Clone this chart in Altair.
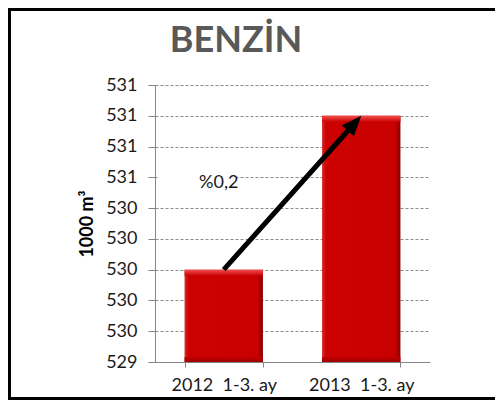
import math
import altair as alt
import pandas as pd

# ---- data ----
categories = ["2012\u00a0 1-3. ay", "2013\u00a0 1-3. ay"]
values = [530.0, 531.0]
tick_values = [529.4, 529.6, 529.8, 530.0, 530.2, 530.4, 530.6, 530.8, 531.0, 531.2]
title_text = ["BENZİN"]
y_title = "1000 m³"
change_label = ["%0,2"]
change_label_y = [530.56]
label_box_y = [530.47]
label_box_y2 = [530.66]

W, H = 275, 277
FONT = "Lato"

df = pd.DataFrame({"period": categories, "value": values, "base": [tick_values[0]] * len(values)})
arrow_df = pd.DataFrame({"x0": [categories[0]], "y0": [values[0]],
                         "x1": [categories[1]], "y1": [values[1]]})
label_df = pd.DataFrame({"period": [categories[0]], "y": change_label_y,
                         "by": label_box_y, "by2": label_box_y2, "t": change_label})
title_df = pd.DataFrame({"t": title_text})

xscale = alt.Scale(domain=categories, paddingInner=0.43, paddingOuter=0.215)
yscale = alt.Scale(domain=[tick_values[0], tick_values[-1]], zero=False, nice=False)

x_axis = alt.Axis(title=None, labelAngle=0, labelFont=FONT, labelFontSize=18,
                  labelColor="#1a1a1a", labelPadding=9, tickSize=5,
                  tickColor="#868686", domainColor="#868686", tickBand="extent",
                  grid=False)
y_axis = alt.Axis(values=tick_values, format=".0f", title=y_title, titleFont=FONT,
                  titleFontSize=18, titleFontWeight="bold", titleColor="#000000",
                  titlePadding=9, labelFont=FONT, labelFontSize=18,
                  labelColor="#1a1a1a", labelPadding=11, tickSize=7,
                  labelOverlap=False, labelFlush=False,
                  tickColor="#868686", domainColor="#868686", grid=True,
                  gridColor="#8c8c8c", gridDash=[3, 2], gridWidth=1)


def X(field):
    return alt.X(field, scale=xscale, sort=categories, axis=x_axis)


def Y(field):
    return alt.Y(field, scale=yscale, axis=y_axis)


body_grad = alt.LinearGradient(
    gradient="linear", x1=0, x2=1, y1=0, y2=0,
    stops=[alt.GradientStop(color="#d82a2a", offset=0),
           alt.GradientStop(color="#cc0202", offset=0.05),
           alt.GradientStop(color="#c90000", offset=0.93),
           alt.GradientStop(color="#8a0000", offset=1)])
top_grad = alt.LinearGradient(
    gradient="linear", x1=0, x2=0, y1=0, y2=1,
    stops=[alt.GradientStop(color="#f25050", offset=0),
           alt.GradientStop(color="#cc0202", offset=1)])
bottom_grad = alt.LinearGradient(
    gradient="linear", x1=0, x2=0, y1=0, y2=1,
    stops=[alt.GradientStop(color="#c40000", offset=0),
           alt.GradientStop(color="#9a0000", offset=1)])

bars = alt.Chart(df).mark_bar(fill=body_grad).encode(
    x=X("period:N"), y=Y("value:Q"), y2="base:Q",
)
bevel_top = alt.Chart(df).mark_bar(fill=top_grad, y2Offset=6).encode(
    x=X("period:N"), y=Y("value:Q"), y2="value:Q",
)
bevel_bottom = alt.Chart(df).mark_bar(fill=bottom_grad, yOffset=-5).encode(
    x=X("period:N"), y=Y("base:Q"), y2="base:Q",
)

# arrow geometry (pixel direction from the scales)
step = W / 2.0
dy_px = (values[1] - values[0]) / (tick_values[-1] - tick_values[0]) * H
ang = math.degrees(math.atan2(step, dy_px))
ux, uy = math.sin(math.radians(ang)), -math.cos(math.radians(ang))
retract = 12

arrow_line = alt.Chart(arrow_df).mark_rule(
    color="black", strokeWidth=5, strokeCap="butt",
    x2Offset=-ux * retract, y2Offset=-uy * retract).encode(
    x=X("x0:N"), y=Y("y0:Q"), x2="x1:N", y2="y1:Q",
)
arrow_head = alt.Chart(arrow_df).mark_point(
    shape="M0,0L0.6,1.5L-0.6,1.5Z", size=720, angle=ang, filled=True,
    color="black", opacity=1, strokeWidth=0).encode(
    x=X("x1:N"), y=Y("y1:Q"),
)

label_box = alt.Chart(label_df).mark_rect(fill="white", xOffset=-27, x2Offset=-6).encode(
    x=X("period:N"), y=Y("by:Q"), y2="by2:Q",
)
label_text = alt.Chart(label_df).mark_text(
    font=FONT, fontSize=18, color="#1a1a1a", dx=-5).encode(
    x=X("period:N"), y=Y("y:Q"), text="t:N",
)

title_mark = alt.Chart(title_df).mark_text(
    font=FONT, fontSize=36, fontWeight="bold", color="#595959",
    align="center", baseline="alphabetic").encode(
    x=alt.value(81), y=alt.value(-33), text="t:N",
)

# outer frame (left, top and bottom edges; the right edge lies outside the picture)
frame_base = alt.Chart(title_df).mark_rule(color="black", strokeWidth=3, strokeCap="square")
frame_left = frame_base.encode(x=alt.value(-145.5), y=alt.value(-75.5), y2=alt.value(313.5))
frame_top = frame_base.encode(x=alt.value(-145.5), x2=alt.value(345), y=alt.value(-75.5))
frame_bottom = frame_base.encode(x=alt.value(-145.5), x2=alt.value(345), y=alt.value(313.5))

chart = alt.layer(
    bars, bevel_top, bevel_bottom, label_box, label_text, arrow_line, arrow_head,
    title_mark, frame_left, frame_top, frame_bottom
).properties(
    width=W, height=H,
    autosize=alt.AutoSizeParams(type="none"),
    padding={"left": 147, "top": 77, "right": 65, "bottom": 38},
    background="white",
).configure_view(strokeWidth=0)

chart.save("out.html", embed_options={"renderer": "svg", "actions": False})
